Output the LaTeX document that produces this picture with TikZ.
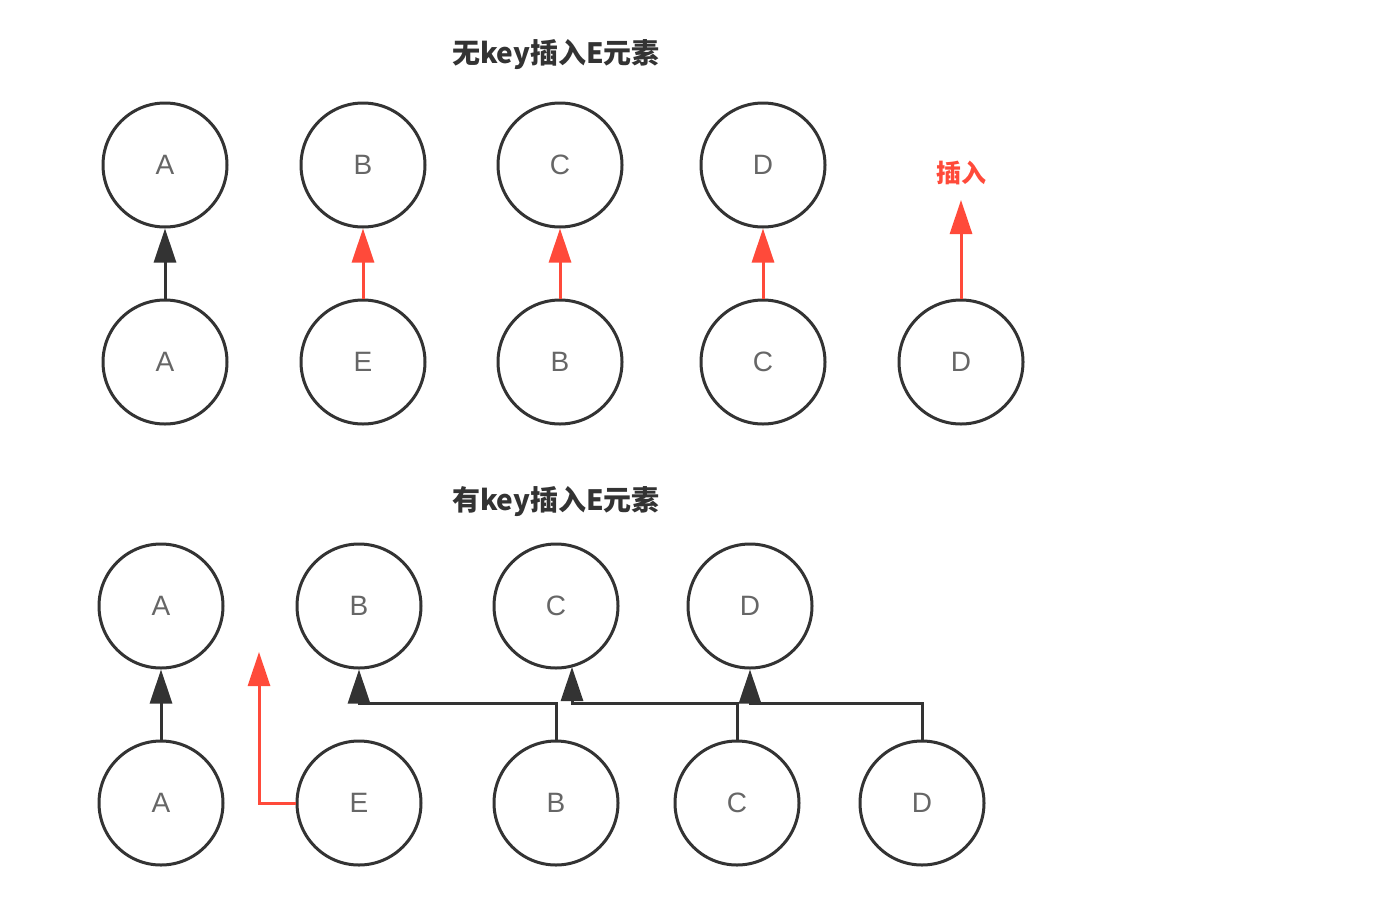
\documentclass[tikz,border=0pt]{standalone}
\usepackage{fontspec}
\setmainfont{Liberation Sans}
\newfontfamily\cjk{Noto Sans CJK SC}
\usetikzlibrary{arrows.meta}
\definecolor{ink}{HTML}{333333}
\definecolor{lbl}{HTML}{666666}
\definecolor{hot}{HTML}{FF4A3A}
\begin{document}
\begin{tikzpicture}[x=1pt,y=-1pt,
  nd/.style={circle,draw=ink,line width=3pt,minimum size=124pt,inner sep=0pt,font=\fontsize{28}{30}\selectfont,text=lbl},
  ttl/.style={font=\cjk\bfseries\fontsize{28}{32}\selectfont,text=ink},
  blk/.style={draw=ink,line width=3pt,-{Triangle[width=22pt,length=34pt]}},
  redl/.style={draw=hot,line width=3pt,-{Triangle[width=22pt,length=34pt]}}]
\useasboundingbox (0,0) rectangle (1384,900);
\node[ttl] (t1) at (556,55) {无key插入E元素};
\node[nd] (a1) at (165,165) {A};
\node[nd] (b1) at (363,165) {B};
\node[nd] (c1) at (560,165) {C};
\node[nd] (d1) at (763,165) {D};
\node[nd] (a2) at (165,362) {A};
\node[nd] (e2) at (363,362) {E};
\node[nd] (b2) at (560,362) {B};
\node[nd] (c2) at (763,362) {C};
\node[nd] (d2) at (961,362) {D};
\node[font=\cjk\bfseries\fontsize{25}{28}\selectfont,text=hot] (ins) at (961,173) {插入};
\coordinate (insend) at (961,200);
\draw[blk] (a2) -- (a1);
\draw[redl] (e2) -- (b1);
\draw[redl] (b2) -- (c1);
\draw[redl] (c2) -- (d1);
\draw[redl] (d2.north) -- (insend);

\node[ttl] (t2) at (556,502) {有key插入E元素};
\node[nd] (a3) at (161,606) {A};
\node[nd] (b3) at (359,606) {B};
\node[nd] (c3) at (556,606) {C};
\node[nd] (d3) at (750,606) {D};
\node[nd] (a4) at (161,803) {A};
\node[nd] (e4) at (359,803) {E};
\node[nd] (b4) at (556,803) {B};
\node[nd] (c4) at (737,803) {C};
\node[nd] (d4) at (922,803) {D};
\coordinate (eend) at (259,652);
\draw[blk] (a4) -- (a3);
\draw[redl] (e4.west) -| (eend);
\draw[blk] (b4.north) |- (359,703) -- (b3.south);
\draw[blk] (c4.north) |- (572,703) -- (572,667);
\draw[blk] (d4.north) |- (750,703) -- (d3.south);
\end{tikzpicture}
\end{document}
